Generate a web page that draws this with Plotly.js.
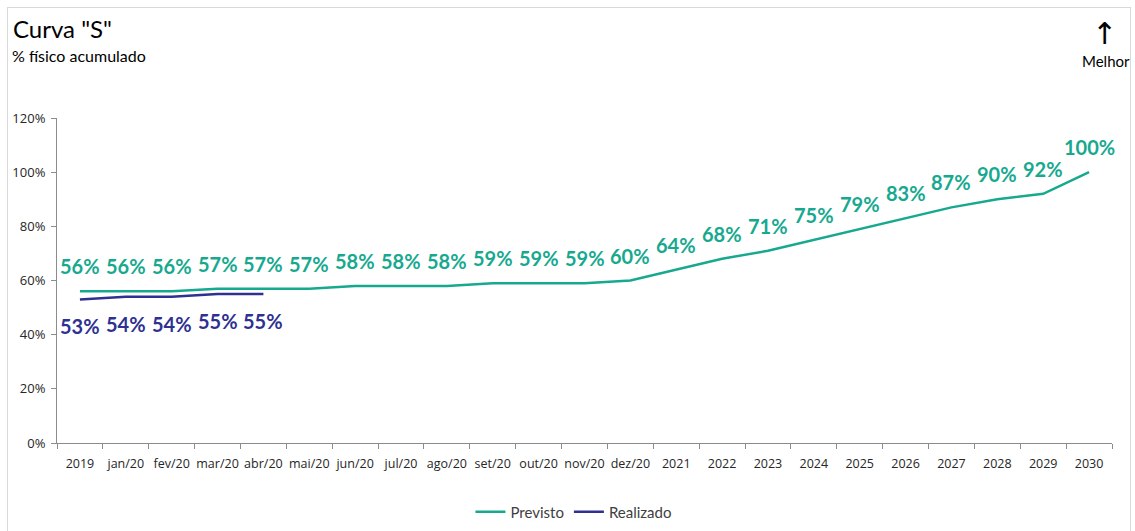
<!DOCTYPE html>
<html><head><meta charset="utf-8">
<script src="https://cdn.plot.ly/plotly-3.0.1.min.js"></script>
<style>
html,body{margin:0;padding:0;background:#fff;}
#wrap{position:relative;width:1135px;height:531px;}
#chart{width:1135px;height:531px;}
#frame{position:absolute;left:7px;top:7px;width:1124px;height:530px;border:1px solid #d9d9d9;pointer-events:none;box-sizing:border-box;}
</style></head>
<body><div id="wrap"><div id="chart"></div><div id="frame"></div></div>
<script>
const categories = ["2019","jan/20","fev/20","mar/20","abr/20","mai/20","jun/20","jul/20","ago/20","set/20","out/20","nov/20","dez/20","2021","2022","2023","2024","2025","2026","2027","2028","2029","2030"];
const previsto = [56,56,56,57,57,57,58,58,58,59,59,59,60,64,68,71,75,79,83,87,90,92,100];
const realizadoCats = ["2019","jan/20","fev/20","mar/20","abr/20"];
const realizado = [53,54,54,55,55];
const yTicks = [0,20,40,60,80,100,120];

const GREEN = "#17A98F", NAVY = "#2E3192";
const FONT = "Lato, 'Open Sans', sans-serif";
const TFONT = "'Open Sans', sans-serif";

const traces = [
  {x: categories, y: previsto, type: "scatter", mode: "lines", name: "Previsto",
   line: {color: GREEN, width: 2.5}, hoverinfo: "skip"},
  {x: realizadoCats, y: realizado, type: "scatter", mode: "lines", name: "Realizado",
   line: {color: NAVY, width: 2.5}, hoverinfo: "skip"}
];

const annotations = [];
previsto.forEach((v,i)=>annotations.push({x: categories.indexOf(categories[i]), y: v, xref:"x", yref:"y", text: v+"%", showarrow:false, yshift: 25,
  font:{family:FONT, size:20, color:GREEN, weight:700}}));
realizado.forEach((v,i)=>annotations.push({x: categories.indexOf(realizadoCats[i]), y: v, xref:"x", yref:"y", text: v+"%", showarrow:false, yshift: -27,
  font:{family:FONT, size:20, color:NAVY, weight:700}}));
annotations.push({xref:"paper", yref:"paper", x: (11-57)/1055, y: (531-88-28)/325, xanchor:"left", yanchor:"middle", showarrow:false,
  text:'Curva "S"', font:{family:FONT, size:24, color:"#000"}});
annotations.push({xref:"paper", yref:"paper", x: (10-57)/1055, y: (531-88-56)/325, xanchor:"left", yanchor:"middle", showarrow:false,
  text:'% físico acumulado', font:{family:FONT, size:16, color:"#000"}});
annotations.push({xref:"paper", yref:"paper", x: (1104-57)/1055, y: (531-88-33)/325, xanchor:"center", yanchor:"middle", showarrow:false,
  text:'↑', font:{family:"DejaVu Sans", size:30, color:"#000"}});
annotations.push({xref:"paper", yref:"paper", x: (1106-57)/1055, y: (531-88-61)/325, xanchor:"center", yanchor:"middle", showarrow:false,
  text:'Melhor', font:{family:FONT, size:15, color:"#000"}});

const layout = {
  width:1135, height:531,
  margin:{l:57, r:23, t:118, b:88, autoexpand:false},
  paper_bgcolor:"#fff", plot_bgcolor:"#fff",
  font:{family:FONT, color:"#404040", size:13},
  showlegend:true,
  legend:{orientation:"h", x:0.49, xanchor:"center", y:(531-88-512)/325, yanchor:"middle", font:{size:15, color:"#404040"}},
  xaxis:{type:"category", categoryorder:"array", categoryarray:categories, range:[-0.5, categories.length-0.5], autorange:false,
    showline:true, linecolor:"#8c8c8c", linewidth:1, ticks:"outside", tickson:"boundaries", ticklen:5, tickcolor:"#8c8c8c",
    showgrid:false, zeroline:false, tickangle:0, automargin:false, tickfont:{family:TFONT, size:12.5, color:"#262626"}, ticklabelstandoff: 9},
  yaxis:{range:[0,120], autorange:false, tickvals:yTicks, ticktext:yTicks.map(v=>v+"%"), showline:true, linecolor:"#8c8c8c", linewidth:1,
    ticks:"outside", ticklen:5, tickcolor:"#8c8c8c", showgrid:false, zeroline:false, automargin:false, ticklabelstandoff: 3, tickfont:{family:TFONT, size:13, color:"#262626"}},
  annotations: annotations
};
Plotly.newPlot("chart", traces, layout, {displayModeBar:false, staticPlot:true});
</script></body></html>
